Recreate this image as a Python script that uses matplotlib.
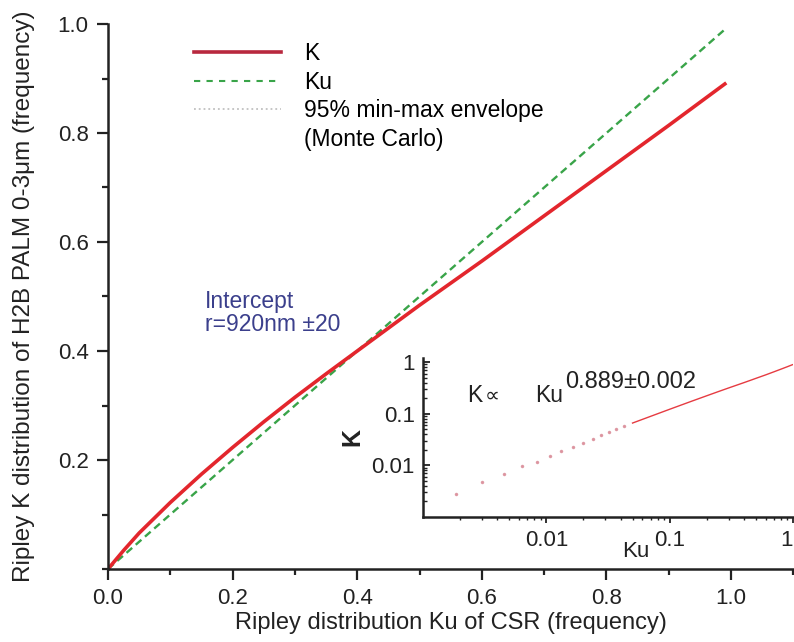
"""Ripley K of H2B PALM vs CSR Ku, with log-log inset of the power-law fit."""

import matplotlib

matplotlib.use("Agg")
import matplotlib.pyplot as plt
from matplotlib.lines import Line2D
from matplotlib.ticker import LogLocator, MultipleLocator, NullFormatter

# main curve
ku_main = [0.0, 0.025, 0.05, 0.10, 0.15, 0.20, 0.25, 0.30, 0.35, 0.40, 0.45,
           0.50, 0.60, 0.70, 0.80, 0.90, 0.99]
k_main = [0.0, 0.034, 0.066, 0.122, 0.174, 0.223, 0.270, 0.315, 0.358, 0.400,
          0.442, 0.484, 0.565, 0.648, 0.731, 0.814, 0.890]

# CSR reference line
ku_line = [0.0, 0.99]
k_line = [0.0, 0.99]

# sparse low-Ku points visible as separate dots in the inset
ku_dots = [0.00186, 0.00303, 0.00453, 0.00634, 0.00836, 0.0107, 0.0132,
           0.0164, 0.0198, 0.0238, 0.0277, 0.0323, 0.037, 0.0427]
k_dots = [0.00276, 0.00471, 0.00673, 0.00986, 0.0118, 0.0152, 0.0190,
          0.0230, 0.0275, 0.0328, 0.0382, 0.0437, 0.0499, 0.0578]

RED = "#e3262d"
GREEN = "#39a449"
BLUE = "#3b3f8c"
INK = "#222222"


def main() -> None:
    plt.rcParams["font.family"] = ["Liberation Sans", "DejaVu Sans"]

    fig = plt.figure(figsize=(7.94, 6.42), dpi=100)

    # ── main axes ─────────────────────────────────────────────────────────
    ax = fig.add_axes([108 / 794, 73 / 642, 686 / 794, 545 / 642])
    ax.plot(ku_line, k_line, "--", color=GREEN, lw=1.7, dashes=(3.2, 2))
    ax.plot(ku_main, k_main, "-", color=RED, lw=2.6)

    ax.set_xlim(0, 1.101)
    ax.set_ylim(0, 1.0)
    ax.set_xticks([0.0, 0.2, 0.4, 0.6, 0.8, 1.0])
    ax.set_yticks([0.2, 0.4, 0.6, 0.8, 1.0])
    ax.xaxis.set_minor_locator(MultipleLocator(0.1))
    ax.yaxis.set_minor_locator(MultipleLocator(0.1))
    ax.tick_params(which="major", direction="out", length=8, width=1.6,
                   labelsize=16, pad=6, colors=INK)
    ax.tick_params(which="minor", direction="out", length=4.3, width=1.6,
                   colors=INK)
    for side in ("top", "right"):
        ax.spines[side].set_visible(False)
    for side in ("left", "bottom"):
        ax.spines[side].set_linewidth(1.8)
        ax.spines[side].set_color(INK)

    ax.set_xlabel("Ripley distribution Ku of CSR (frequency)", fontsize=17,
                  color=INK, labelpad=2)
    ax.set_ylabel("Ripley K distribution of H2B PALM 0-3μm (frequency)",
                  fontsize=17.5, color=INK, labelpad=16)

    handles = [
        Line2D([], [], color="#b8283e", lw=2.6),
        Line2D([], [], color=GREEN, lw=1.5, ls="--", dashes=(3, 3)),
        Line2D([], [], color="#c0c0c0", lw=1.3, ls=":"),
        Line2D([], [], color="none"),
    ]
    labels = ["K", "Ku", "95% min-max envelope", "(Monte Carlo)"]
    ax.legend(handles, labels, loc="upper left", bbox_to_anchor=(0.105, 0.992),
              frameon=False, fontsize=16.5, handlelength=3.8,
              handletextpad=1.0, labelspacing=0.24, borderaxespad=0.2)

    ax.text(0.155, 0.512, "Intercept\nr=920nm ±20", color=BLUE, fontsize=16.5,
            va="top", ha="left", linespacing=1.0)

    # ── inset (log-log) ───────────────────────────────────────────────────
    ins = fig.add_axes([423 / 794, 125 / 642, 370 / 794, 159 / 642])
    ins.set_facecolor("white")
    ins.plot(ku_dots, k_dots, ".", color="#d98a96", ms=3, alpha=0.8)
    ins.plot(ku_main[2:], k_main[2:], "-", color=RED, lw=1.0, alpha=0.9)
    ins.set_xscale("log")
    ins.set_yscale("log")
    ins.set_xlim(0.001, 1.0)
    ins.set_ylim(0.001, 1.2)
    ins.set_xticks([0.01, 0.1, 1])
    ins.set_xticklabels(["0.01", "0.1", "1"])
    ins.set_yticks([0.01, 0.1, 1])
    ins.set_yticklabels(["0.01", "0.1", "1"])
    ins.xaxis.set_minor_locator(LogLocator(subs=range(2, 10)))
    ins.yaxis.set_minor_locator(LogLocator(subs=range(2, 10)))
    ins.xaxis.set_minor_formatter(NullFormatter())
    ins.yaxis.set_minor_formatter(NullFormatter())
    ins.tick_params(axis="x", which="major", direction="out", length=4,
                    width=1.3, labelsize=16, pad=5, colors=INK)
    ins.tick_params(axis="x", which="minor", direction="out", length=2,
                    width=1.0, colors=INK)
    ins.tick_params(axis="y", which="major", direction="in", length=5,
                    width=1.3, labelsize=16, pad=6, colors=INK)
    ins.tick_params(axis="y", which="minor", direction="in", length=3,
                    width=1.0, colors=INK)
    # the "1" at the right edge sits left of its tick so it stays in frame
    ins.get_xticklabels()[-1].set_horizontalalignment("right")
    for side in ("top", "right"):
        ins.spines[side].set_visible(False)
    for side in ("left", "bottom"):
        ins.spines[side].set_linewidth(1.8)
        ins.spines[side].set_color(INK)

    ins.text(-0.19, 0.5, "K", transform=ins.transAxes, rotation=90,
             fontsize=18, fontweight="bold", va="center", ha="center",
             color=INK)
    ins.text(0.576, -0.22, "Ku", transform=ins.transAxes, fontsize=16,
             va="center", ha="center", color=INK)
    ins.text(0.119, 0.723, "K", transform=ins.transAxes, fontsize=16.5,
             va="baseline", ha="left", color=INK)
    ins.text(0.168, 0.723, "∝", transform=ins.transAxes, fontsize=15,
             va="baseline", ha="left", color=INK)
    ins.text(0.303, 0.723, "Ku", transform=ins.transAxes, fontsize=16.5,
             va="baseline", ha="left", color=INK)
    ins.text(0.384, 0.811, "0.889±0.002", transform=ins.transAxes,
             fontsize=17, va="baseline", ha="left", color=INK)

    fig.savefig("out.png", dpi=100)


if __name__ == "__main__":
    main()
